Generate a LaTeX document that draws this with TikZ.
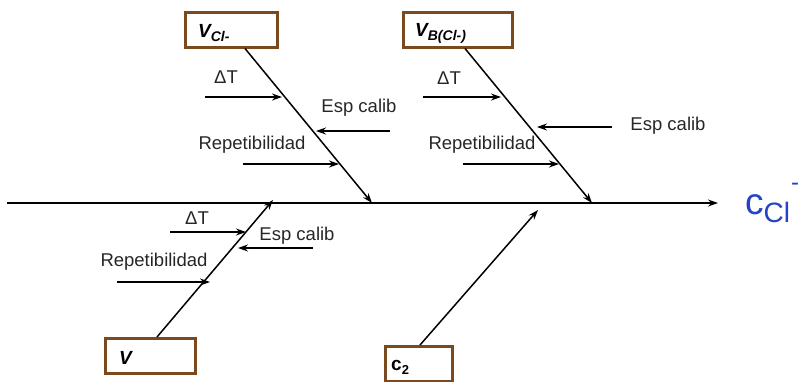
\documentclass[tikz,border=0pt]{standalone}
\usepackage{fontspec}
\setmainfont{Liberation Sans}
\usetikzlibrary{arrows.meta}
\definecolor{boxbrown}{HTML}{7A4A1E}
\definecolor{cblue}{HTML}{2443C8}
\begin{document}
\begin{tikzpicture}[x=1pt,y=-1pt,
  causebox/.style={draw=boxbrown, line width=3pt, fill=white, minimum height=35pt, inner sep=0pt},
  arr/.style={-{Stealth[length=10pt,width=7pt]}, line width=1.5pt},
  lbl/.style={font=\fontsize{18.5}{20}\selectfont, inner sep=0pt, text=black!85},
  boxtxt/.style={font=\fontsize{19}{20}\selectfont\bfseries\itshape, inner sep=0pt, anchor=west}]
\useasboundingbox (0,0) rectangle (801,381);

% spine
\coordinate (spL) at (7,203);
\coordinate (spR) at (718,203);
\draw[arr] (spL) -- (spR);
\node[text=cblue, font=\fontsize{37}{37}\selectfont, inner sep=0pt, anchor=west] (ccl) at (745,203)
  {c\raisebox{-8pt}{\fontsize{28}{28}\selectfont Cl}\hspace{1pt}\raisebox{24pt}{\fontsize{24}{24}\selectfont -}};

% boxes
\node[causebox, minimum width=92pt] (vcl) at (231,30) {};
\node[boxtxt] (vcltxt) at (198,33) {V\raisebox{-4pt}{\fontsize{14}{14}\selectfont Cl-}};
\node[causebox, minimum width=109pt] (vb) at (457.5,30) {};
\node[boxtxt] (vbtxt) at (415,33) {V\raisebox{-4pt}{\fontsize{14}{14}\selectfont B(Cl-)}};
\node[causebox, minimum width=90pt] (vv) at (150,355.5) {};
\node[boxtxt] (vvtxt) at (119,358) {V};
\node[causebox, minimum width=67pt] (c2) at (418.5,363.5) {};
\node[font=\fontsize{19}{20}\selectfont\bfseries, inner sep=0pt, anchor=west] (c2txt) at (391,367) {c\raisebox{-4pt}{\fontsize{13}{13}\selectfont 2}};

% main diagonals
\coordinate (d1s) at (245,48.5);
\coordinate (d1e) at (372,203);
\draw[arr] (d1s) -- (d1e);
\coordinate (d2s) at (465,48.5);
\coordinate (d2e) at (592,203);
\draw[arr] (d2s) -- (d2e);
\coordinate (d3s) at (157,337);
\coordinate (d3e) at (273,200);
\draw[arr] (d3s) -- (d3e);
\coordinate (d4s) at (420,345);
\coordinate (d4e) at (538,210);
\draw[arr] (d4s) -- (d4e);

% V_Cl branch
\node[lbl] (t1) at (226,77) {ΔT};
\coordinate (a1s) at (205,97); \coordinate (a1e) at (282,97);
\draw[arr] (a1s) -- (a1e);
\node[lbl] (t2) at (359,108) {Esp calib};
\coordinate (a2s) at (390,131); \coordinate (a2e) at (316,131);
\draw[arr] (a2s) -- (a2e);
\node[lbl] (t3) at (252,145) {Repetibilidad};
\coordinate (a3s) at (243,164); \coordinate (a3e) at (339,164);
\draw[arr] (a3s) -- (a3e);

% V_B branch
\node[lbl] (t4) at (449,78) {ΔT};
\coordinate (a4s) at (423,97); \coordinate (a4e) at (501,97);
\draw[arr] (a4s) -- (a4e);
\node[lbl] (t5) at (668,126) {Esp calib};
\coordinate (a5s) at (612,127); \coordinate (a5e) at (537,127);
\draw[arr] (a5s) -- (a5e);
\node[lbl] (t6) at (482,145) {Repetibilidad};
\coordinate (a6s) at (463,164); \coordinate (a6e) at (559,164);
\draw[arr] (a6s) -- (a6e);

% V branch
\node[lbl] (t7) at (197,218) {ΔT};
\coordinate (a7s) at (170,232); \coordinate (a7e) at (246,232);
\draw[arr] (a7s) -- (a7e);
\node[lbl] (t8) at (297,236) {Esp calib};
\coordinate (a8s) at (313,248); \coordinate (a8e) at (238,248);
\draw[arr] (a8s) -- (a8e);
\node[lbl] (t9) at (154,262) {Repetibilidad};
\coordinate (a9s) at (117,282); \coordinate (a9e) at (210,282);
\draw[arr] (a9s) -- (a9e);
\end{tikzpicture}
\end{document}
